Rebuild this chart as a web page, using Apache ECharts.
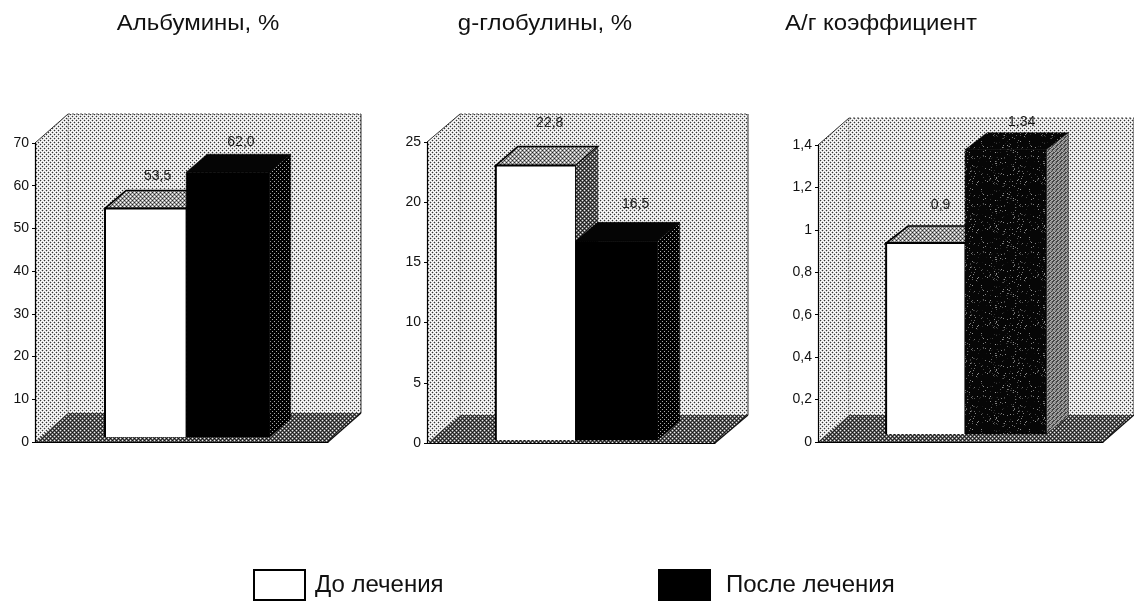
<!DOCTYPE html>
<html><head><meta charset="utf-8">
<style>html,body{margin:0;padding:0;background:#fff}#c{width:1134px;height:602px}</style>
<script src="https://cdn.jsdelivr.net/npm/echarts@6/dist/echarts.min.js"></script>
</head><body><div id="c"></div>
<script>
var chartTitles = ['Альбумины, %', 'g-глобулины, %', 'А/г коэффициент'];
var seriesNames = ['До лечения', 'После лечения'];
var beforeValues = [53.5, 22.8, 0.9];
var afterValues = [62.0, 16.5, 1.34];
var beforeLabels = ['53,5', '22,8', '0,9'];
var afterLabels = ['62,0', '16,5', '1,34'];
var axisMax = [70, 25, 1.4];
var axisStep = [10, 5, 0.2];

// layout only
var FONT = '"Liberation Sans", Arial, sans-serif';
var layouts = [
  {left: 35,  top: 143, w: 293, h: 299, dx: 33, dy: -29, lift: 5, bx: 21, by: -18, titleX: 198,
   lab: [[12, -32], [13, -30]]},
  {left: 427, top: 142, w: 288, h: 301, dx: 33, dy: -28, lift: 3, bx: 22, by: -19, titleX: 545,
   lab: [[14, -42], [19, -37]]},
  {left: 818, top: 145, w: 285, h: 297, dx: 31, dy: -27, lift: 8, bx: 22, by: -17, titleX: 881,
   lab: [[15, -38], [16, -28]]}
];

function tile(rows) {
  var cv = document.createElement('canvas');
  cv.height = rows.length; cv.width = rows[0].length;
  var g = cv.getContext('2d');
  rows.forEach(function (r, y) {
    for (var x = 0; x < r.length; x++) {
      var v = parseInt(r[x], 16) * 17;
      g.fillStyle = 'rgb(' + v + ',' + v + ',' + v + ')';
      g.fillRect(x, y, 1, 1);
    }
  });
  return {image: cv, repeat: 'repeat'};
}
function noiseTile(size, base, spread, rate) {
  var cv = document.createElement('canvas');
  cv.width = cv.height = size;
  var g = cv.getContext('2d');
  for (var y = 0; y < size; y++) for (var x = 0; x < size; x++) {
    var h = Math.sin(x * 12.9898 + y * 78.233) * 43758.5453; h -= Math.floor(h);
    var v = h < rate ? base + spread * (h / rate) : base;
    v = Math.round(v);
    g.fillStyle = 'rgb(' + v + ',' + v + ',' + v + ')';
    g.fillRect(x, y, 1, 1);
  }
  return {image: cv, repeat: 'repeat'};
}
var wallFill = tile(['3cfc', 'cfcf', 'fc3c', 'cfcf']);
var floorFill = tile(['16e6', '6363', 'e616', '6363']);
var topFill = tile(['2afa', 'a7a7', 'fa2a', 'a7a7']);
var sideDark = tile(['0000', '00a0', '0000', 'a000']);
var sideHatch = tile(['a44a', '44a8', '4a88', '88a4']);
var speckle = noiseTile(48, 6, 150, 0.09);

var faceStyles = [
  {blackFace: '#000', blackSide: sideDark, blackTop: '#050505'},
  {blackFace: '#000', blackSide: sideDark, blackTop: '#050505'},
  {blackFace: speckle, blackSide: sideHatch, blackTop: speckle}
];

function poly(points, fill, stroke, lw) {
  return {type: 'polygon', shape: {points: points},
    style: {fill: fill, stroke: stroke || null, lineWidth: lw || 0}};
}
function line(a, b, stroke, lw, dash) {
  return {type: 'line', shape: {x1: a[0], y1: a[1], x2: b[0], y2: b[1]},
    style: {stroke: stroke, lineWidth: lw, lineDash: dash || null, fill: null}};
}

function renderWall(L) {
  return function (params) {
    var c = params.coordSys, x0 = c.x, x1 = c.x + c.width, yT = c.y, y0 = c.y + c.height;
    var dx = L.dx, dy = L.dy;
    return {type: 'group', children: [
      poly([[x0, y0], [x0, yT], [x0 + dx, yT + dy], [x1 + dx, yT + dy], [x1 + dx, y0 + dy], [x1, y0]], wallFill),
      poly([[x0, y0], [x1, y0], [x1 + dx, y0 + dy], [x0 + dx, y0 + dy]], floorFill),
      line([x0 + dx, yT + dy], [x0 + dx, y0 + dy], '#999', 1, [2, 2]),
      line([x0, yT], [x0 + dx, yT + dy], '#333', 1),
      line([x0 + dx, yT + dy], [x1 + dx, yT + dy], '#555', 1, [2, 2]),
      line([x1 + dx, yT + dy], [x1 + dx, y0 + dy], '#333', 1),
      line([x1 + dx, y0 + dy], [x1, y0], '#111', 1.2)
    ]};
  };
}

function renderBar(idx, order, text) {
  var L = layouts[idx], S = faceStyles[idx];
  return function (params, api) {
    var p = api.coord([0, api.value(1)]);
    var band = api.size([1, 0])[0];
    var base = params.coordSys.y + params.coordSys.height - L.lift;
    var w = band * (order === 0 ? 0.277 : 0.285);
    var mid = p[0] + band * 0.016;
    var xl = order === 0 ? mid - w : mid;
    var xr = xl + w, yt = p[1] - L.lift;
    var bx = L.bx, by = L.by;
    var white = order === 0;
    var kids = [
      poly([[xl, yt], [xl + bx, yt + by], [xr + bx, yt + by], [xr, yt]],
           white ? topFill : S.blackTop, '#000', white ? 1.6 : 0.5),
      poly([[xr, yt], [xr + bx, yt + by], [xr + bx, base + by], [xr, base]],
           white ? floorFill : S.blackSide, '#000', 0.5),
      poly([[xl, yt], [xr, yt], [xr, base], [xl, base]],
           white ? '#fff' : S.blackFace, white ? null : '#000', white ? 0 : 0.5)
    ];
    if (white) {
      kids.push(line([xl, yt], [xr, yt], '#000', 2));
      kids.push(line([xl, yt - 1], [xl, base], '#000', 2));
      kids.push(line([xr, yt], [xr, base], '#000', 1));
    }
    kids.push({type: 'text', z2: 20, style: {
      text: text, x: xl + w / 2 + L.lab[order][0], y: yt + L.lab[order][1],
      align: 'center', verticalAlign: 'middle', fill: '#222',
      font: '14px ' + FONT}});
    return {type: 'group', children: kids};
  };
}

var grids = [], xAxes = [], yAxes = [], series = [], titles = [];
layouts.forEach(function (L, i) {
  grids.push({left: L.left, top: L.top, width: L.w, height: L.h, containLabel: false});
  titles.push({type: 'text', x: L.titleX, y: 24, scaleX: 1.09, scaleY: 1, silent: true,
    style: {text: chartTitles[i], align: 'center', verticalAlign: 'middle', fill: '#111',
      font: '22px ' + FONT}});
  xAxes.push({type: 'category', gridIndex: i, data: [chartTitles[i]], z: 6,
    axisLine: {show: true, lineStyle: {color: '#000', width: 1.2}},
    axisTick: {show: false}, axisLabel: {show: false}, splitLine: {show: false}});
  yAxes.push({type: 'value', gridIndex: i, min: 0, max: axisMax[i], interval: axisStep[i], z: 6,
    axisLine: {show: true, lineStyle: {color: '#000', width: 1.2}},
    axisTick: {show: true, length: 3, lineStyle: {color: '#000'}},
    axisLabel: {margin: 6, color: '#111', fontFamily: FONT, fontSize: 14,
      formatter: function (v) { return String(+v.toFixed(1)).replace('.', ','); }},
    splitLine: {show: false}});
  series.push({type: 'custom', name: 'стенка', xAxisIndex: i, yAxisIndex: i, z: 1, silent: true,
    data: [[0, axisMax[i]]], renderItem: renderWall(L)});
  series.push({type: 'custom', name: seriesNames[0], xAxisIndex: i, yAxisIndex: i, z: 2, silent: true,
    itemStyle: {color: '#fff', borderColor: '#000', borderWidth: 1.5},
    encode: {x: 0, y: 1}, data: [[0, beforeValues[i]]], renderItem: renderBar(i, 0, beforeLabels[i])});
  series.push({type: 'custom', name: seriesNames[1], xAxisIndex: i, yAxisIndex: i, z: 3, silent: true,
    itemStyle: {color: '#000', borderColor: '#000', borderWidth: 1},
    encode: {x: 0, y: 1}, data: [[0, afterValues[i]]], renderItem: renderBar(i, 1, afterLabels[i])});
});

function legendAt(left, name, gap) {
  return {left: left, top: 569, padding: 0, orient: 'horizontal', data: [name], itemWidth: 51, itemHeight: 30,
    icon: 'rect', selectedMode: false,
    textStyle: {fontFamily: FONT, fontSize: 24, color: '#111', padding: [0, 0, 0, gap]}};
}

var chart = echarts.init(document.getElementById('c'), null, {renderer: 'canvas', width: 1134, height: 602});
chart.setOption({
  animation: false,
  backgroundColor: '#fff',
  graphic: titles,
  legend: [legendAt(253, seriesNames[0], 5), legendAt(658, seriesNames[1], 11)],
  grid: grids, xAxis: xAxes, yAxis: yAxes, series: series
});
</script></body></html>
